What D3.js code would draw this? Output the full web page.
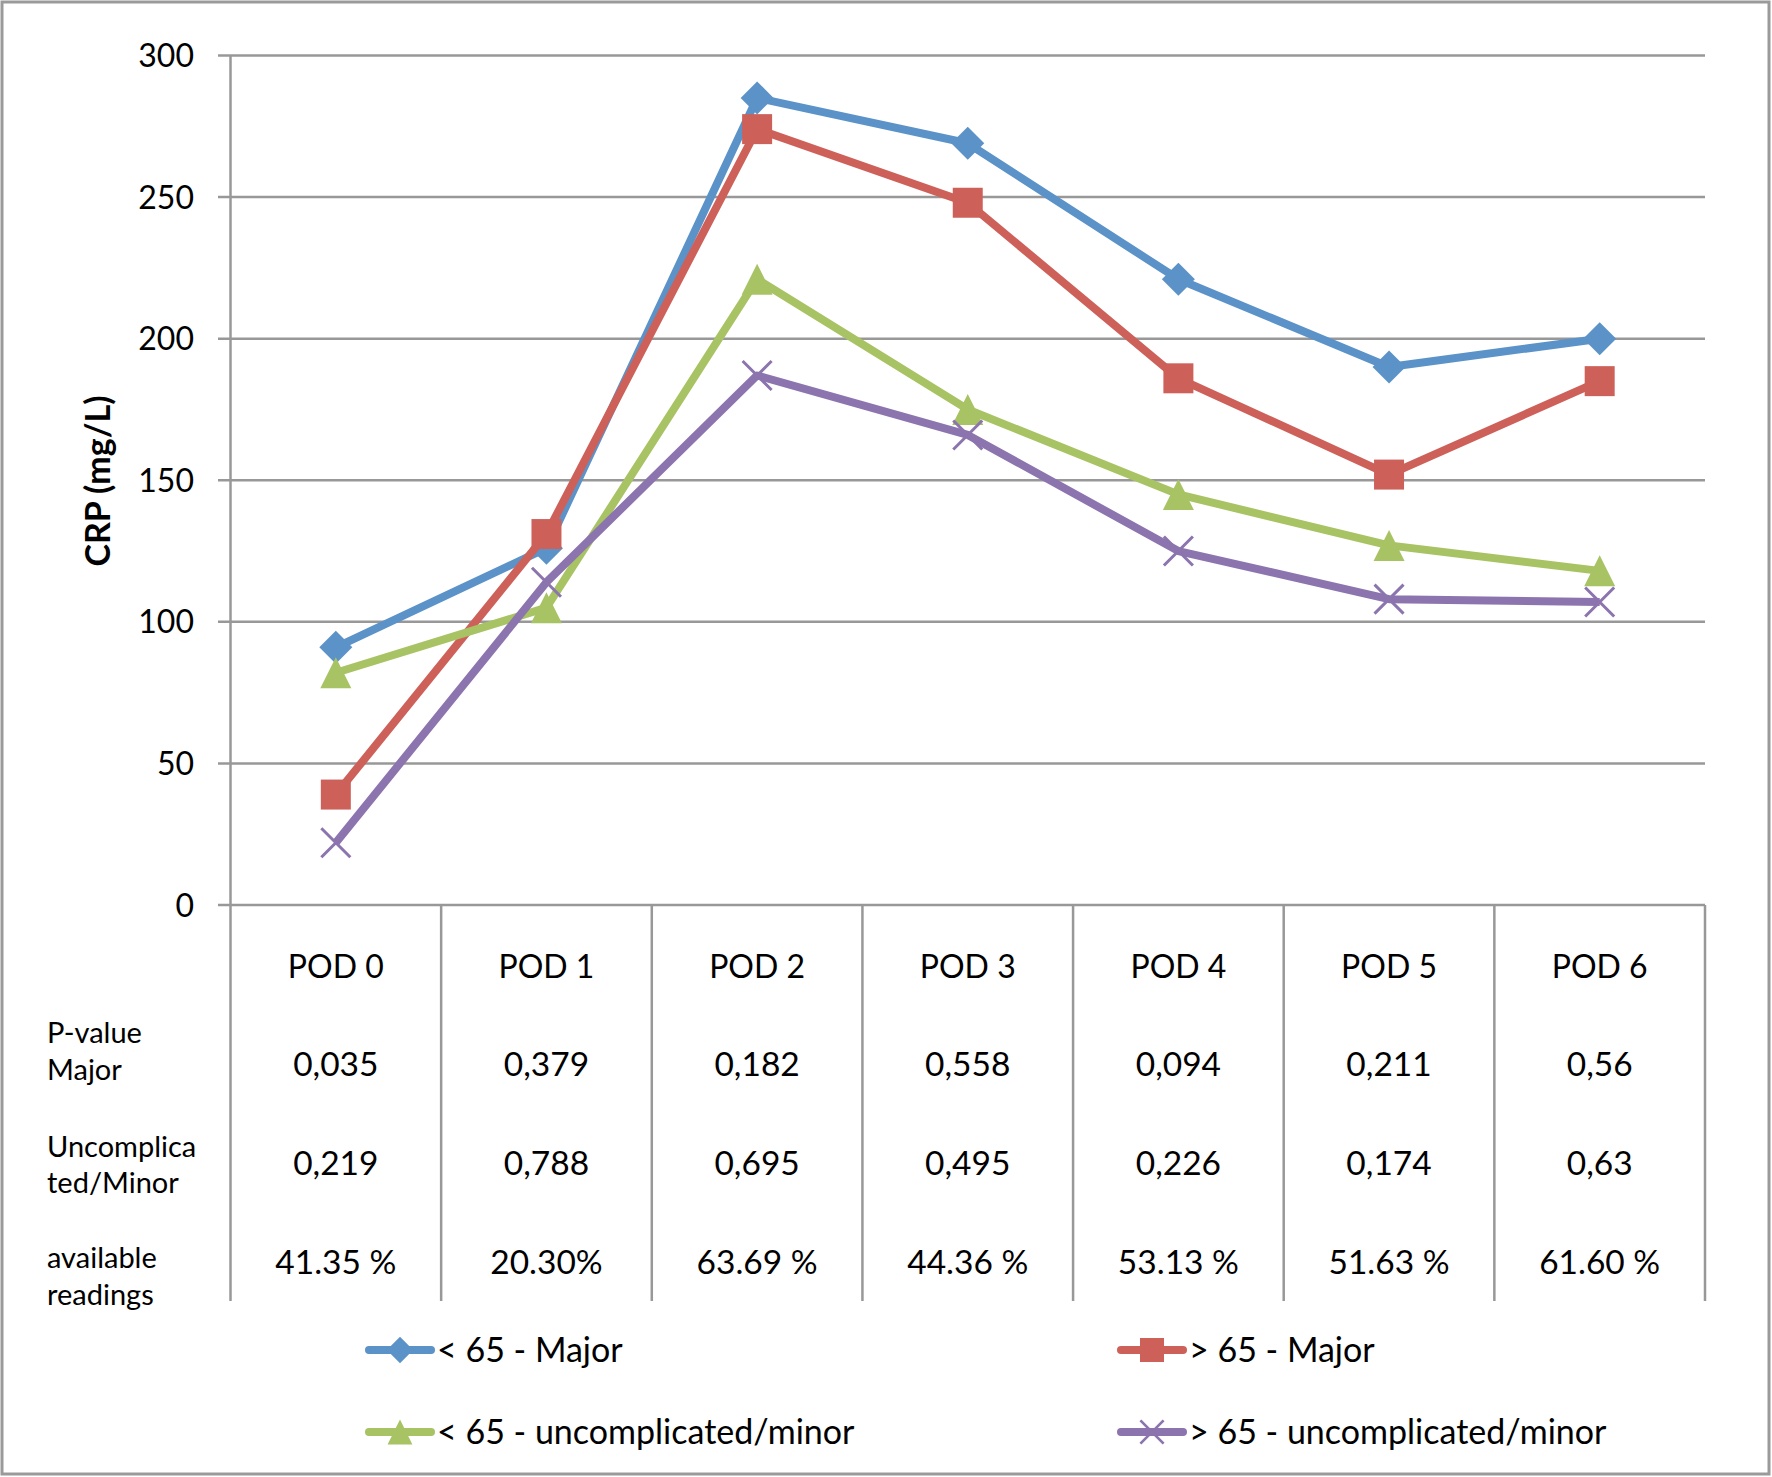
<!DOCTYPE html>
<html><head><meta charset="utf-8">
<script src="https://cdn.jsdelivr.net/npm/d3@7"></script>
<style>html,body{margin:0;padding:0;background:#fff;}svg{display:block;font-family:Lato,"Open Sans",sans-serif;}</style>
</head><body>
<svg id="chart" width="1772" height="1477"></svg>
<script>
const categories = ["POD 0","POD 1","POD 2","POD 3","POD 4","POD 5","POD 6"];
const seriesNames = ["< 65 - Major","> 65 - Major","< 65 - uncomplicated/minor","> 65 - uncomplicated/minor"];
const under65Major = [91, 126, 285, 269, 221, 190, 200];
const over65Major = [39, 131, 274, 248, 186, 152, 185];
const under65Minor = [82, 105, 221, 175, 145, 127, 118];
const over65Minor = [22, 114, 187, 166, 125, 108, 107];
const yTicks = [0, 50, 100, 150, 200, 250, 300];
const rowLabels = [["P-value","Major"],["Uncomplica","ted/Minor"],["available","readings"]];
const pMajor = ["0,035","0,379","0,182","0,558","0,094","0,211","0,56"];
const pMinor = ["0,219","0,788","0,695","0,495","0,226","0,174","0,63"];
const available = ["41.35 %","20.30%","63.69 %","44.36 %","53.13 %","51.63 %","61.60 %"];

const colors = ["#5b92c8","#cd615a","#a8c364","#8c74ae"];
const seriesData = [under65Major, over65Major, under65Minor, over65Minor];

const svg = d3.select("#chart");
const gridColor = "#989898";

// outer frame
svg.append("rect").attr("x",2).attr("y",2).attr("width",1767).attr("height",1472)
  .attr("fill","#fff").attr("stroke","#9a9a9a").attr("stroke-width",3);

const x = d3.scaleBand().domain(categories).range([230.5,1705]).padding(0);
const y = d3.scaleLinear().domain([0,300]).range([905,55.5]);
const cx = c => x(c) + x.bandwidth()/2;

// gridlines
svg.append("g").selectAll("line").data(yTicks).join("line")
  .attr("x1",218).attr("x2",1705).attr("y1",d=>y(d)).attr("y2",d=>y(d))
  .attr("stroke",gridColor).attr("stroke-width",2.5);

// y axis line
svg.append("line").attr("x1",230.5).attr("x2",230.5).attr("y1",y(300)).attr("y2",1301)
  .attr("stroke",gridColor).attr("stroke-width",2.5);

// table vertical lines
const bounds = categories.map(c=>x(c)).slice(1).concat([1705]);
svg.append("g").selectAll("line").data(bounds).join("line")
  .attr("x1",d=>d).attr("x2",d=>d).attr("y1",y(0)).attr("y2",1301)
  .attr("stroke",gridColor).attr("stroke-width",2.5);

// y tick labels
svg.append("g").selectAll("text").data(yTicks).join("text")
  .attr("x",194).attr("y",d=>y(d)).attr("dy","0.36em").attr("text-anchor","end")
  .attr("font-size",32).attr("fill","#000").text(d=>d);

// y axis title
svg.append("text").attr("transform","translate(98,481) rotate(-90)")
  .attr("text-anchor","middle").attr("dy","0.36em").attr("font-size",34).attr("font-weight","bold")
  .text("CRP (mg/L)");

// category labels and table rows
svg.append("g").selectAll("text").data(categories).join("text")
  .attr("x",d=>cx(d)).attr("y",966).attr("dy","0.36em").attr("text-anchor","middle")
  .attr("font-size",32).text(d=>d);
const rows = [pMajor, pMinor, available];
const rowY = [1064, 1163, 1262];
rows.forEach((r,i)=>{
  svg.append("g").selectAll("text").data(r).join("text")
    .attr("x",(d,j)=>cx(categories[j])).attr("y",rowY[i]).attr("dy","0.36em").attr("text-anchor","middle")
    .attr("font-size",33.5).text(d=>d);
});
const labelY = [[1033,1070],[1147,1183],[1258,1295]];
rowLabels.forEach((lab,i)=>{
  lab.forEach((t,k)=>{
    svg.append("text").attr("x",47).attr("y",labelY[i][k]).attr("dy","0.36em")
      .attr("font-size",29).text(t);
  });
});

// marker symbols
const diamond = {draw(ctx,s){const r=Math.sqrt(s)/2; ctx.moveTo(0,-r);ctx.lineTo(r,0);ctx.lineTo(0,r);ctx.lineTo(-r,0);ctx.closePath();}};
const square = {draw(ctx,s){const r=Math.sqrt(s)/2; ctx.rect(-r,-r,2*r,2*r);}};
const triangle = {draw(ctx,s){const r=Math.sqrt(s)/2; ctx.moveTo(0,-r);ctx.lineTo(r,r);ctx.lineTo(-r,r);ctx.closePath();}};
const cross = {draw(ctx,s){const r=Math.sqrt(s)/2; ctx.moveTo(-r,-r);ctx.lineTo(r,r);ctx.moveTo(r,-r);ctx.lineTo(-r,r);}};
const symbolTypes = [diamond, square, triangle, cross];
const symbolSizes = [33*33, 30*30, 31*31, 29*29];

function drawMarker(g, i, px, py, scale){
  const p = d3.symbol().type(symbolTypes[i]).size(symbolSizes[i]*scale*scale)();
  const m = g.append("path").attr("d",p).attr("transform",`translate(${px},${py})`);
  if(i===3) m.attr("fill","none").attr("stroke",colors[i]).attr("stroke-width",3*Math.max(scale,0.9));
  else m.attr("fill",colors[i]);
}

const line = d3.line().x((d,j)=>cx(categories[j])).y(d=>y(d));
seriesData.forEach((vals,i)=>{
  const g = svg.append("g");
  g.append("path").datum(vals).attr("d",line).attr("fill","none")
    .attr("stroke",colors[i]).attr("stroke-width",8).attr("stroke-linejoin","round");
  vals.forEach((v,j)=>drawMarker(g,i,cx(categories[j]),y(v),1));
});

// legend
const legPos = [[367,1350],[1119,1350],[367,1432],[1119,1432]];
seriesNames.forEach((n,i)=>{
  const [lx,ly] = legPos[i];
  const g = svg.append("g");
  g.append("line").attr("x1",lx+2).attr("x2",lx+64).attr("y1",ly).attr("y2",ly)
    .attr("stroke",colors[i]).attr("stroke-width",8).attr("stroke-linecap","round");
  drawMarker(g,i,lx+33,ly,0.8);
  g.append("text").attr("x",lx+70).attr("y",ly).attr("dy","0.36em").attr("font-size",34).text(n);
});
</script>
</body></html>
